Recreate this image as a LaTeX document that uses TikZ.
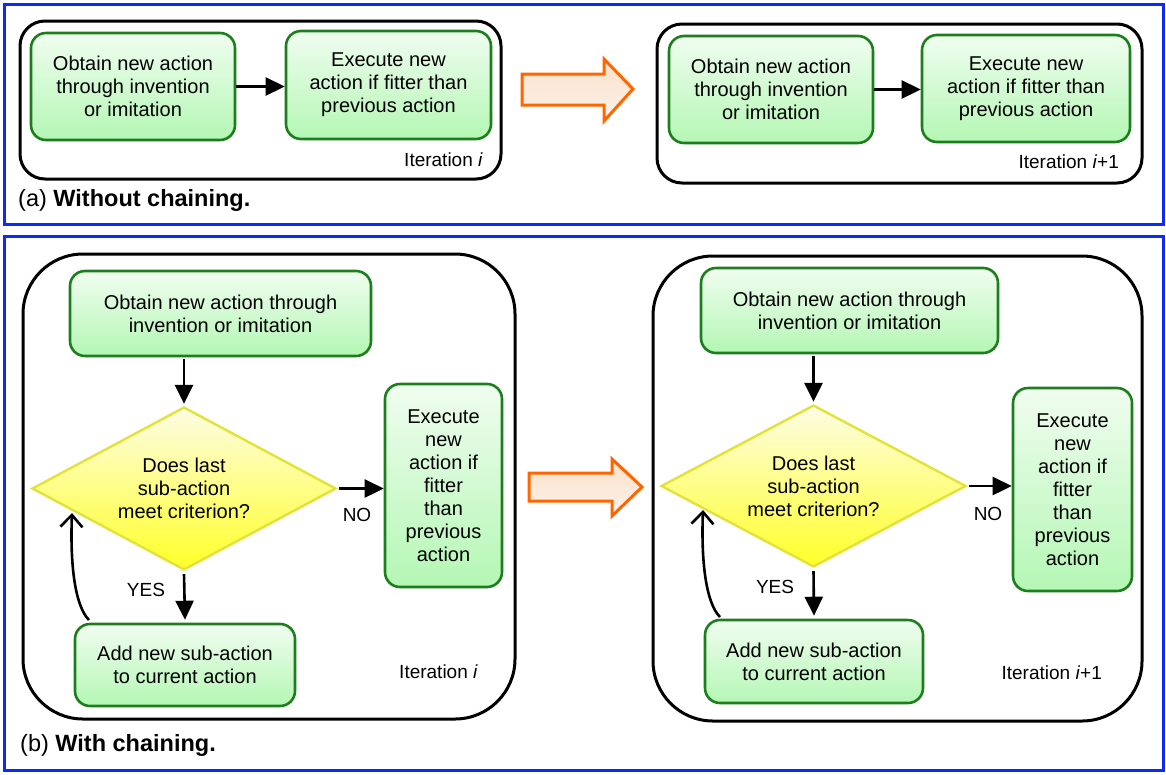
\documentclass[tikz,border=0pt]{standalone}
\usepackage{fontspec}
\setmainfont{Liberation Sans}
\usetikzlibrary{shapes.geometric,arrows.meta,calc}
\definecolor{frameblue}{RGB}{12,44,245}
\definecolor{gborder}{RGB}{28,126,28}
\definecolor{gtop}{RGB}{240,253,240}
\definecolor{gbot}{RGB}{180,247,180}
\definecolor{yborder}{RGB}{226,226,56}
\definecolor{ytop}{RGB}{253,253,228}
\definecolor{ybot}{RGB}{255,255,40}
\definecolor{oborder}{RGB}{255,102,0}
\definecolor{otop}{RGB}{251,225,200}
\definecolor{obot}{RGB}{253,242,236}
\tikzset{
  x=1pt,y=1pt,
  greenbox/.style={draw=gborder, line width=2.6pt, rounded corners=15pt,
    top color=gtop, bottom color=gbot, align=center, inner sep=0pt,
    font=\fontsize{20}{23}\selectfont},
  decision/.style={diamond, aspect=1.86, draw=yborder, line width=2.4pt, top color=ytop,
    bottom color=ybot, align=center, inner sep=0pt,
    font=\fontsize{20}{23}\selectfont},
  iterframe/.style={draw=black, line width=3pt},
  panelframe/.style={draw=frameblue, line width=3pt},
  flow/.style={line width=2.6pt, -{Triangle[length=19pt,width=18pt]}},
  loopback/.style={line width=2.6pt, -{Straight Barb[length=12pt,width=22pt,line width=2.6pt]}},
  lab/.style={font=\fontsize{19}{22}\selectfont, inner sep=0pt},
  caption/.style={font=\fontsize{23.5}{26}\selectfont, inner sep=0pt, anchor=base west},
  bigarrow/.style={draw=oborder, line width=3pt, top color=otop, bottom color=obot, line join=miter}
}
\begin{document}
\begin{tikzpicture}
\useasboundingbox (0,0) rectangle (1166,-774);
% panel frames
\draw[panelframe] (4,-4) rectangle (1163,-224);
\draw[panelframe] (4,-236) rectangle (1163,-770);

% ---------- (a) left ----------
\draw[iterframe, rounded corners=25pt] (20,-21) rectangle (501,-179);
\node[greenbox, minimum width=204pt, minimum height=107pt] (a1) at (133,-86.5)
  {Obtain new action\\through invention\\or imitation};
\node[greenbox, minimum width=205pt, minimum height=108pt] (a2) at (388.5,-85)
  {Execute new\\action if fitter than\\previous action};
\draw[flow] (a1.east) -- (a1.east -| a2.west);
\node[lab, anchor=base east] (ia) at (483,-166) {Iteration \textit{i}};
\node[caption] (capa) at (18,-206) {(a) \textbf{Without chaining.}};

% orange arrow (a)
\draw[bigarrow] (522,-74) -- (604,-74) -- (604,-59) -- (633,-89) -- (604,-121) -- (604,-105) -- (522,-105) -- cycle;

% ---------- (a) right ----------
\draw[iterframe, rounded corners=25pt] (657,-24) rectangle (1142,-183);
\node[greenbox, minimum width=204pt, minimum height=107pt] (b1) at (771,-89.5)
  {Obtain new action\\through invention\\or imitation};
\node[greenbox, minimum width=208pt, minimum height=107pt] (b2) at (1026,-88.5)
  {Execute new\\action if fitter than\\previous action};
\draw[flow] (b1.east) -- (b1.east -| b2.west);
\node[lab, anchor=base east] (ib) at (1119,-168) {Iteration \textit{i}+1};

% ---------- (b) left ----------
\draw[iterframe, rounded corners=60pt] (23,-254) rectangle (515,-719);
\node[greenbox, minimum width=301pt, minimum height=85pt] (c1) at (220.5,-313.5)
  {Obtain new action through\\invention or imitation};
\node[decision, minimum width=304pt, minimum height=163pt] (d1) at (184,-488.5)
  {Does last\\sub-action\\meet criterion?};
\node[greenbox, minimum width=117pt, minimum height=203pt] (e1) at (443.5,-485.5)
  {Execute\\new\\action if\\fitter\\than\\previous\\action};
\node[greenbox, minimum width=220pt, minimum height=82pt] (f1) at (185,-665)
  {Add new sub-action\\to current action};
\draw[flow] (c1.south -| d1.north) ++(0,-2) -- ($(d1.north)+(0,2)$);
\draw[flow] ($(d1.east)+(2,0)$) -- (d1.east -| e1.west);
\draw[flow] ($(d1.south)+(0,-3)$) -- ($(f1.north)+(0,3)$);
\coordinate (l1s) at (89,-620);
\coordinate (l1e) at (72,-513);
\draw[loopback] (l1s) .. controls (75,-606) and (70,-565) .. (l1e);
\node[lab] (no1) at (357,-515) {NO};
\node[lab] (yes1) at (146,-590) {YES};
\node[lab, anchor=base east] (ic) at (478,-678) {Iteration \textit{i}};
\node[caption] (capb) at (20,-751) {(b) \textbf{With chaining.}};

% orange arrow (b)
\draw[bigarrow] (529,-473) -- (612,-473) -- (612,-459) -- (642,-487) -- (612,-516) -- (612,-501) -- (529,-501) -- cycle;

% ---------- (b) right ----------
\draw[iterframe, rounded corners=60pt] (653,-256) rectangle (1142,-721);
\node[greenbox, minimum width=297pt, minimum height=85pt] (c2) at (849.5,-310.5)
  {Obtain new action through\\invention or imitation};
\node[decision, minimum width=305pt, minimum height=162pt] (d2) at (813.5,-486)
  {Does last\\sub-action\\meet criterion?};
\node[greenbox, minimum width=119pt, minimum height=203pt] (e2) at (1072.5,-489.5)
  {Execute\\new\\action if\\fitter\\than\\previous\\action};
\node[greenbox, minimum width=218pt, minimum height=83pt] (f2) at (814,-661.5)
  {Add new sub-action\\to current action};
\draw[flow] (c2.south -| d2.north) ++(0,-2) -- ($(d2.north)+(0,2)$);
\draw[flow] ($(d2.east)+(2,0)$) -- (d2.east -| e2.west);
\draw[flow] ($(d2.south)+(0,-3)$) -- ($(f2.north)+(0,3)$);
\coordinate (l2s) at (720,-617);
\coordinate (l2e) at (703,-510);
\draw[loopback] (l2s) .. controls (706,-603) and (701,-562) .. (l2e);
\node[lab] (no2) at (988,-514) {NO};
\node[lab] (yes2) at (775,-587) {YES};
\node[lab, anchor=base east] (id) at (1102,-679) {Iteration \textit{i}+1};
\end{tikzpicture}
\end{document}
